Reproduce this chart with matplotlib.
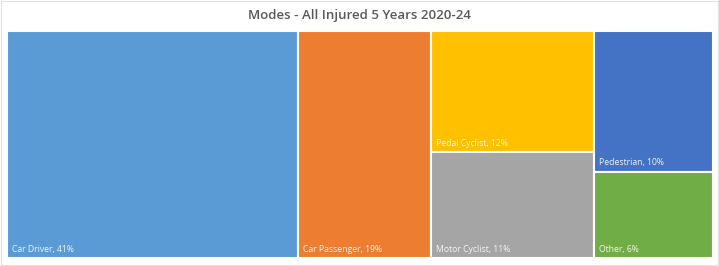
import matplotlib
matplotlib.use("Agg")
import matplotlib.pyplot as plt
from matplotlib.patches import Rectangle

categories = ["Car Driver", "Car Passenger", "Pedal Cyclist", "Motor Cyclist", "Pedestrian", "Other"]
values = [41.2, 18.7, 12.3, 10.8, 10.4, 6.4]
colors = ["#5B9BD5", "#ED7D31", "#FFC000", "#A5A5A5", "#4472C4", "#70AD47"]
columns = [[0], [1], [2, 3], [4, 5]]

fig = plt.figure(figsize=(7.19, 2.66), dpi=100)
fig.patch.set_facecolor("white")
ax = fig.add_axes([7/719, 8/266, 706/719, 227/266])
ax.set_xlim(0, 1)
ax.set_ylim(0, 1)
ax.axis("off")

total = sum(values)
x = 0.0
for col in columns:
    colsum = sum(values[i] for i in col)
    w = colsum / total
    ytop = 1.0
    for i in col:
        h = values[i] / colsum
        y0 = ytop - h
        ax.add_patch(Rectangle((x, y0), w, h, facecolor=colors[i], edgecolor="white", linewidth=1.5))
        ax.annotate(f"{categories[i]}, {values[i]:.0f}%", xy=(x, y0), xytext=(3.5, 3),
                    textcoords="offset points", fontsize=6.2, color="white",
                    family="Open Sans", ha="left", va="bottom", alpha=0.9)
        ytop = y0
    x += w

fig.text(0.5, 1 - 16/266, "Modes - All Injured 5 Years 2020-24", ha="center", va="center",
         fontsize=9.5, color="#595959", family="Open Sans", fontweight="semibold")
fig.add_artist(Rectangle((0.001, 0.002), 0.997, 0.995, transform=fig.transFigure,
                         fill=False, edgecolor="#E0E0E0", linewidth=0.8))
fig.savefig("out.png", dpi=100, facecolor="white")
